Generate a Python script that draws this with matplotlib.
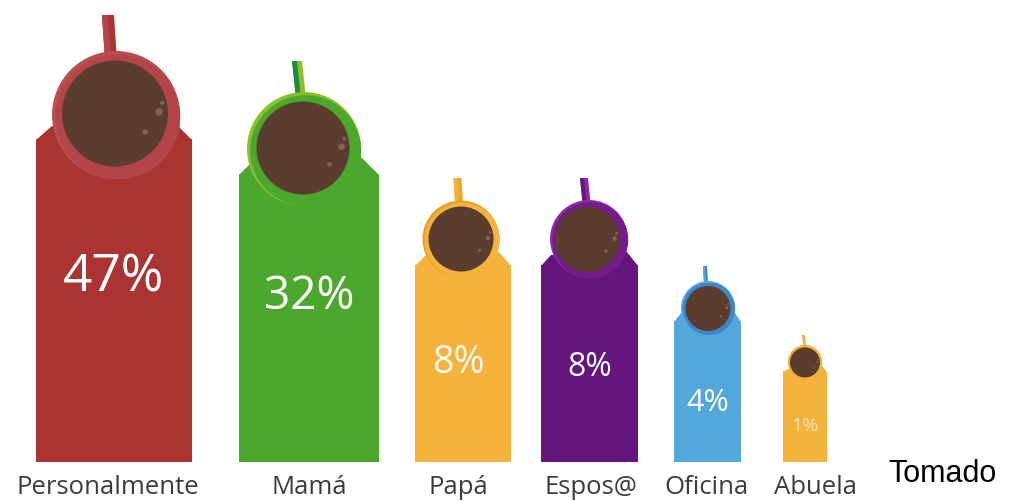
import numpy as np
import matplotlib
matplotlib.use("Agg")
import matplotlib.pyplot as plt
from matplotlib.patches import Circle, Polygon

categories = ["Personalmente", "Mamá", "Papá", "Espos@", "Oficina", "Abuela"]
values = [47, 32, 8, 8, 4, 1]

# Pictogram scale: percentage -> drawn bar height in pixels (deliberately non-linear)
scale_pct = [0, 1, 4, 8, 32, 47, 100]
scale_px = [0, 91, 141, 197, 288, 323, 463]

def to_px(v):
    return np.interp(v, scale_pct, scale_px)

def to_pct(p):
    return np.interp(p, scale_px, scale_pct)

# Styling and layout, in pixels
bar_left = [36, 239, 415, 541, 674, 783]
bar_right = [192, 379, 511, 638, 741, 827]
bar_colors = ["#A93432", "#4BA82D", "#F3B33C", "#64167D", "#52A8DD", "#F3B33C"]
rim_colors = ["#B2444A", "#4BA82D", "#F3B33C", "#741C8C", "#3F86C6", "#F3B33C"]
rim_accents = ["#B9504F", "#8CBF2C", "#E79F24", "#8E2C9E", "#5BAEE2", "#F0A830"]
handle_dark = ["#B2444A", "#1E8A45", "#F3B33C", "#64167D", "#52A8DD", "#F0A830"]
handle_light = ["#A93432", "#8CBF2C", "#E9A52C", "#8E2C9E", "#3F86C6", "#F3B33C"]
cup_x = [116, 304, 461, 589, 708, 805]
cup_y = [116, 150, 240, 240, 309, 363]
cup_r = [64, 57, 38.5, 39, 27, 17]
coffee_x = [115, 303, 461, 587.5, 708, 805]
coffee_y = [114.5, 149, 240, 240.5, 309.5, 363.5]
coffee_r = [53, 46.5, 32.5, 32.5, 22.5, 15]
handle_top = [16, 62, 179, 179, 267, 336]
handle_x_top = [108, 297, 457.5, 584, 705, 803.5]
handle_x_bot = [109.5, 299.5, 458, 585.5, 705, 804]
handle_w = [12, 10, 8, 8, 4, 2.5]
shoulder_l = [(52, 127), (250, 165), (425, 257), (551, 256), (681, 314), (788, 370)]
shoulder_r = [(178, 127), (358, 155), (499, 253), (627, 253), (735, 314), (822, 367)]
pct_xy = [(113, 278), (309, 297), (458, 363), (590, 368), (708, 403), (805, 426)]
pct_size = [37, 33, 27, 23, 22, 14]
pct_alpha = [1, 1, 0.92, 1, 1, 0.6]
label_x = [108, 309, 458, 591, 707, 816]
label_size = 18.5
coffee = "#5A3D2E"
# Reflections on the coffee: offset x, offset y, radius, as fractions of the coffee radius
glints = [(0.83, -0.03, 0.07), (0.89, -0.20, 0.04), (0.57, 0.35, 0.05)]

fig = plt.figure(figsize=(10.09, 5.02), dpi=100, facecolor="white")

# Bars sit on a baseline 463 px below the top of the canvas
ax = fig.add_axes([0, (502 - 463) / 502, 1, 463 / 502])
ax.set_yscale("function", functions=(to_px, to_pct))
ax.set_xlim(0, 1009)
ax.set_ylim(0, 100)
ax.axis("off")
centres = [(l + r) / 2 for l, r in zip(bar_left, bar_right)]
widths = [r - l for l, r in zip(bar_left, bar_right)]
ax.bar(centres, values, width=widths, color=bar_colors, linewidth=0, zorder=1)

# Overlay in canvas pixels for the shoulders, cups and text
ov = fig.add_axes([0, 0, 1, 1], facecolor="none")
ov.set_xlim(0, 1009)
ov.set_ylim(502, 0)
ov.axis("off")

for i, v in enumerate(values):
    top = 463 - float(to_px(v))
    ov.add_patch(Polygon([(bar_left[i], top + 1), shoulder_l[i], shoulder_r[i], (bar_right[i], top + 1)],
                         closed=True, fc=bar_colors[i], ec="none", zorder=2))
    # Cup handle, two-toned and slightly tapered
    hw = handle_w[i]
    ht, hx_t, hx_b = handle_top[i], handle_x_top[i], handle_x_bot[i]
    hy = cup_y[i] - cup_r[i] + 2
    ov.add_patch(Polygon([(hx_t - hw / 2, ht), (hx_t + hw / 2, ht), (hx_b + hw / 2 + 1, hy), (hx_b - hw / 2 + 1, hy)],
                         closed=True, fc=handle_light[i], ec="none", zorder=3))
    ov.add_patch(Polygon([(hx_t - hw / 2, ht), (hx_t, ht), (hx_b + 1, hy), (hx_b - hw / 2 + 1, hy)],
                         closed=True, fc=handle_dark[i], ec="none", zorder=3))
    # Cup body and the lighter rim offset toward the upper left
    ov.add_patch(Circle((cup_x[i], cup_y[i]), cup_r[i], fc=rim_accents[i], ec="none", zorder=4))
    d = cup_r[i] * 0.03
    ov.add_patch(Circle((cup_x[i] + d, cup_y[i] + d), cup_r[i] * 0.975, fc=rim_colors[i], ec="none", zorder=5))
    ov.add_patch(Circle((coffee_x[i], coffee_y[i]), coffee_r[i], fc=coffee, ec="none", zorder=6))
    r = coffee_r[i]
    for gx, gy, rad in glints:
        ov.add_patch(Circle((coffee_x[i] + gx * r, coffee_y[i] + gy * r), rad * r,
                            fc="#8A7264", ec="none", alpha=0.75, zorder=7))
    ov.text(*pct_xy[i], f"{v}%", color="white", alpha=pct_alpha[i], fontsize=pct_size[i],
            family="Open Sans", ha="center", va="center", zorder=8)
    ov.text(label_x[i], 494, categories[i], color="#3C3C3C", fontsize=label_size, family="Open Sans",
            ha="center", va="baseline", zorder=8)

ov.text(888, 474, "Tomado", color="black", fontsize=22, family="Liberation Sans",
        ha="left", va="center", zorder=8)

fig.savefig("out.png", dpi=100)
